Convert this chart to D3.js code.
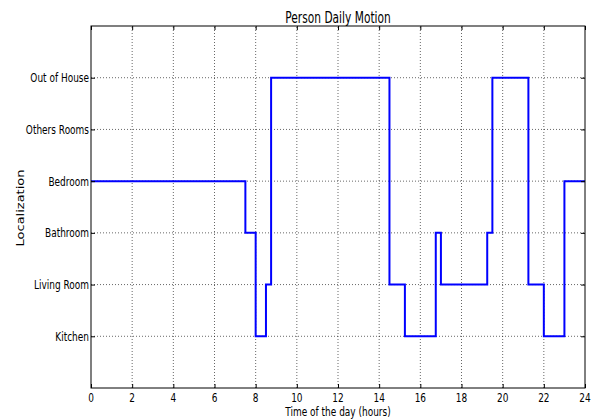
<!DOCTYPE html>
<html>
<head>
<meta charset="utf-8">
<script src="https://cdn.jsdelivr.net/npm/d3@7"></script>
<style>
  body { margin: 0; background: #fff; }
  text { font-family: "DejaVu Sans", sans-serif; fill: #000; }
</style>
</head>
<body>
<div id="chart"></div>
<script>
// rooms, bottom to top (value 1..6)
var rooms = ["Kitchen", "Living Room", "Bathroom", "Bedroom", "Others Rooms", "Out of House"]
// step changes: hour at which the person moves, and where to
var hours = [0, 7.5, 8, 8.5, 8.75, 14.5, 15.25, 16.75, 17, 19.25, 19.5, 21.25, 22, 23, 24]
var places = ["Bedroom", "Bathroom", "Kitchen", "Living Room", "Out of House", "Living Room", "Kitchen",
              "Bathroom", "Living Room", "Bathroom", "Out of House", "Living Room", "Kitchen", "Bedroom", "Bedroom"]
var xTicks = [0, 2, 4, 6, 8, 10, 12, 14, 16, 18, 20, 22, 24]

var width = 596, height = 419
var m = {left: 91, right: 11, top: 26, bottom: 31}
var sx = 0.69  // text looks squeezed sideways in the original

var svg = d3.select("#chart").append("svg")
  .attr("width", width).attr("height", height)

var x = d3.scaleLinear().domain([0, 24]).range([m.left, width - m.right])
var y = d3.scaleLinear().domain([0, 7]).range([height - m.bottom, m.top])
var yTicks = rooms.map((r, i) => i + 1)

// grid
var grid = svg.append("g")
grid.selectAll(".gx").data(xTicks.slice(1, -1)).enter().append("line")
  .attr("x1", d => x(d)).attr("x2", d => x(d))
  .attr("y1", y(0)).attr("y2", y(7))
  .attr("stroke", "#000").attr("stroke-width", 0.6).attr("stroke-dasharray", "1,2")
grid.selectAll(".gy").data(yTicks).enter().append("line")
  .attr("x1", x(0)).attr("x2", x(24))
  .attr("y1", d => y(d)).attr("y2", d => y(d))
  .attr("stroke", "#000").attr("stroke-width", 0.6).attr("stroke-dasharray", "1,2")

// step line
var pts = hours.map((h, i) => [h, rooms.indexOf(places[i]) + 1])
var line = d3.line().x(d => x(d[0])).y(d => y(d[1])).curve(d3.curveStepAfter)
svg.append("path").datum(pts)
  .attr("d", line)
  .attr("fill", "none").attr("stroke", "#0000ff").attr("stroke-width", 2)

// inward ticks on all sides
var ax = svg.append("g")
ax.append("g").attr("transform", "translate(0," + y(0) + ")")
  .call(d3.axisTop(x).tickValues(xTicks).tickSize(4).tickFormat(""))
ax.append("g").attr("transform", "translate(0," + y(7) + ")")
  .call(d3.axisBottom(x).tickValues(xTicks).tickSize(4).tickFormat(""))
ax.append("g").attr("transform", "translate(" + x(0) + ",0)")
  .call(d3.axisRight(y).tickValues(yTicks).tickSize(4).tickFormat(""))
ax.append("g").attr("transform", "translate(" + x(24) + ",0)")
  .call(d3.axisLeft(y).tickValues(yTicks).tickSize(4).tickFormat(""))
ax.selectAll(".domain").remove()
ax.selectAll("line").attr("stroke", "#000").attr("stroke-width", 1)

// frame
svg.append("rect")
  .attr("x", x(0)).attr("y", y(7))
  .attr("width", x(24) - x(0)).attr("height", y(0) - y(7))
  .attr("fill", "none").attr("stroke", "#000").attr("stroke-width", 1)

// tick labels
svg.selectAll(".xl").data(xTicks).enter().append("text")
  .attr("transform", d => "translate(" + x(d) + "," + (y(0) + 14) + ") scale(" + sx + ",1)")
  .attr("text-anchor", "middle").style("font-size", "13px")
  .text(d => d)
svg.selectAll(".yl").data(yTicks).enter().append("text")
  .attr("transform", d => "translate(" + (x(0) - 2) + "," + (y(d) + 4.5) + ") scale(" + sx + ",1)")
  .attr("text-anchor", "end").style("font-size", "13px")
  .text((d, i) => rooms[i])

// title and axis labels
svg.append("text")
  .attr("transform", "translate(" + (x(0) + x(24)) / 2 + ",23) scale(0.71,1)")
  .attr("text-anchor", "middle").style("font-size", "15px")
  .text("Person Daily Motion")
svg.append("text")
  .attr("transform", "translate(" + (x(0) + x(24)) / 2 + ",416) scale(" + sx + ",1)")
  .attr("text-anchor", "middle").style("font-size", "13px")
  .text("Time of the day (hours)")
svg.append("text")
  .attr("transform", "translate(24," + ((y(0) + y(7)) / 2 + 1) + ") scale(0.85,1) rotate(-90)")
  .attr("text-anchor", "middle").style("font-size", "13px")
  .text("Localization")
</script>
</body>
</html>
